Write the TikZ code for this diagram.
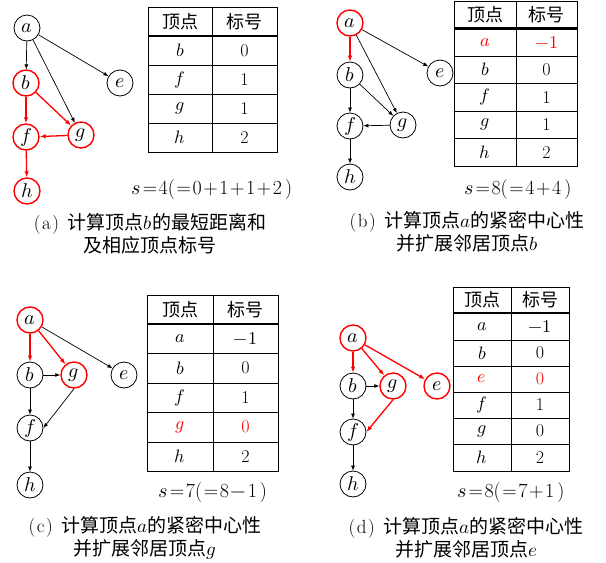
\documentclass[tikz,border=0pt]{standalone}
\usepackage{fontspec}
\usepackage{unicode-math}
\setmathfont{Latin Modern Math}
\newfontfamily\cjk{Noto Sans CJK SC}
\usetikzlibrary{arrows.meta}

\tikzset{
  vtx/.style={circle, draw, line width=0.8pt, minimum size=26pt, inner sep=0pt,
              font=\fontsize{20}{20}\selectfont},
  hot/.style={draw=red, line width=1.4pt},
  edge/.style={-{Latex[length=5pt,width=4pt]}, line width=0.7pt},
  hotedge/.style={-{Latex[length=6pt,width=4.5pt]}, draw=red, line width=1.3pt},
  tabrule/.style={line width=0.9pt},
  tabhead/.style={line width=2.2pt},
  cell/.style={inner sep=0pt, font=\fontsize{18}{18}\selectfont},
  sumline/.style={inner sep=0pt, font=\fontsize{20}{20}\selectfont},
  captext/.style={inner sep=0pt, align=center, font=\fontsize{19}{23}\selectfont}
}

% sub-figure tag "(x)" in front of a caption
\newcommand\subtag[1]{(\kern1.5pt#1\kern1.5pt)\hspace{0.45em}}
% slightly spaced equals, plus and minus signs of the sum lines
\newcommand\feq{\kern1.6pt=\kern1.6pt}
\newcommand\fplus{\kern1.6pt+\kern1.6pt}
\newcommand\fminus{\kern1.6pt$-$\kern1.6pt}

% vertex/label table: prefix, x left/mid/right, y top/header/bottom, rows
\newcommand\vtab[8]{%
  \node[cell] (#1-h1) at ({(#2+#3)/2},{(#5+#6)/2}) {\cjk 顶点};
  \node[cell] (#1-h2) at ({(#3+#4)/2},{(#5+#6)/2}) {\cjk 标号};
  \foreach \yt/\yb/\v/\n/\c [count=\i] in {#8} {
    \draw[tabrule] (#2,\yb) -- (#4,\yb);
    \node[cell,text=\c] (#1-v\i) at ({(#2+#3)/2},{(\yt+\yb)/2}) {$\v$};
    \node[cell,text=\c] (#1-n\i) at ({(#3+#4)/2},{(\yt+\yb)/2}) {\n};
  }
  \draw[tabrule] (#3,#5) -- (#3,#7);
  \draw[tabhead] (#2,#6) -- (#4,#6);
  \draw[tabrule] (#2,#5) rectangle (#4,#7);
}

\begin{document}
\begin{tikzpicture}[x=1pt,y=-1pt]
\useasboundingbox (0,0) rectangle (606,563);

% ---------- (a) ----------
\node[vtx]     (a1) at (27,28)  {$a$};
\node[vtx,hot] (b1) at (26,83)  {$b$};
\node[vtx,hot] (f1) at (26,137) {$f$};
\node[vtx,hot] (g1) at (81,135) {$g$};
\node[vtx,hot] (h1) at (27,191) {$h$};
\node[vtx]     (e1) at (120,83) {$e$};
\draw[edge] (a1) -- (b1);
\draw[edge] (a1) -- (g1);
\draw[edge] (a1) -- (e1);
\draw[hotedge] (b1) -- (f1);
\draw[hotedge] (b1) -- (g1);
\draw[hotedge] (g1) -- (f1);
\draw[hotedge] (f1) -- (h1);
\vtab{ta}{148}{212}{277}{7}{36}{152}{36/65/b/0/black, 65/94/f/1/black, 94/123/g/1/black, 123/152/h/2/black}
\node[sumline] (sa) at (212,190) {$s$\feq 4(\feq 0\fplus 1\fplus 1\fplus 2\kern3pt)};
\node[captext] (ca) at (150,233.5) {\subtag{a}{\cjk 计算顶点}$b${\cjk 的最短距离和}\\{\cjk 及相应顶点标号}};

% ---------- (b) ----------
\node[vtx,hot] (a2) at (350,23)  {$a$};
\node[vtx]     (b2) at (350,75)  {$b$};
\node[vtx]     (f2) at (350,126) {$f$};
\node[vtx]     (g2) at (403,125) {$g$};
\node[vtx]     (h2) at (350,177) {$h$};
\node[vtx]     (e2) at (440,73)  {$e$};
\draw[hotedge] (a2) -- (b2);
\draw[edge] (a2) -- (g2);
\draw[edge] (a2) -- (e2);
\draw[edge] (b2) -- (f2);
\draw[edge] (b2) -- (g2);
\draw[edge] (g2) -- (f2);
\draw[edge] (f2) -- (h2);
\vtab{tb}{454}{516}{577}{1.5}{28.5}{166}{28.5/56/a/{$-1$}/red, 56/83.5/b/0/black, 83.5/111/f/1/black, 111/138.5/g/1/black, 138.5/166/h/2/black}
\node[sumline] (sb) at (518,190) {$s$\feq 8(\feq 4\fplus 4\kern3pt)};
\node[captext] (cb) at (467,232) {\subtag{b}{\cjk 计算顶点}$a${\cjk 的紧密中心性}\\{\cjk 并扩展邻居顶点}$b$};

% ---------- (c) ----------
\node[vtx,hot] (a3) at (30,320) {$a$};
\node[vtx]     (b3) at (30,375) {$b$};
\node[vtx,hot] (g3) at (74,375) {$g$};
\node[vtx]     (e3) at (124,375) {$e$};
\node[vtx]     (f3) at (30,428) {$f$};
\node[vtx]     (h3) at (30,485) {$h$};
\draw[hotedge] (a3) -- (b3);
\draw[hotedge] (a3) -- (g3);
\draw[edge] (a3) -- (e3);
\draw[edge] (b3) -- (g3);
\draw[edge] (b3) -- (f3);
\draw[edge] (g3.south) -- (f3.east);
\draw[edge] (f3) -- (h3);
\vtab{tc}{147}{213}{278}{295}{324}{471}{324/353/a/{$-1$}/black, 353/383/b/0/black, 383/412/f/1/black, 412/442/g/0/red, 442/471/h/2/black}
\node[sumline] (sc) at (213,493) {$s$\feq 7(\feq 8\fminus 1\kern3pt)};
\node[captext] (cc) at (145,538) {\subtag{c}{\cjk 计算顶点}$a${\cjk 的紧密中心性}\\{\cjk 并扩展邻居顶点}$g$};

% ---------- (d) ----------
\node[vtx,hot] (a4) at (353,338) {$a$};
\node[vtx]     (b4) at (353,386) {$b$};
\node[vtx,hot] (g4) at (393,386) {$g$};
\node[vtx,hot] (e4) at (437,386) {$e$};
\node[vtx]     (f4) at (353,432) {$f$};
\node[vtx]     (h4) at (353,484) {$h$};
\draw[hotedge] (a4) -- (b4);
\draw[hotedge] (a4) -- (g4);
\draw[hotedge] (a4) -- (e4);
\draw[edge] (b4) -- (g4);
\draw[edge] (b4) -- (f4);
\draw[hotedge] (g4.south) -- (f4.east);
\draw[edge] (f4) -- (h4);
\vtab{td}{453}{511}{569}{287}{313}{471}{313/340/a/{$-1$}/black, 340/366/b/0/black, 366/392/e/0/red, 392/418/f/1/black, 418/444/g/0/black, 444/471/h/2/black}
\node[sumline] (sd) at (511,493) {$s$\feq 8(\feq 7\fplus 1\kern3pt)};
\node[captext] (cd) at (466,538) {\subtag{d}{\cjk 计算顶点}$a${\cjk 的紧密中心性}\\{\cjk 并扩展邻居顶点}$e$};
\end{tikzpicture}
\end{document}
